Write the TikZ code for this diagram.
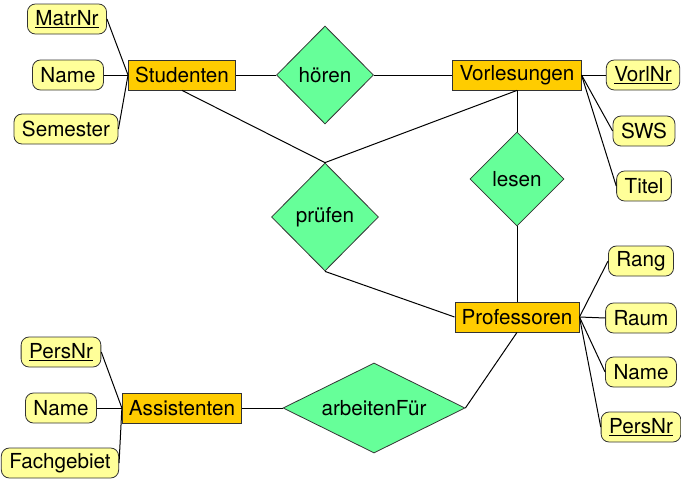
\documentclass[tikz,border=0pt]{standalone}
\usepackage{fontspec}
\setmainfont{TeX Gyre Heros}
\usetikzlibrary{shapes.geometric}

\definecolor{entityfill}{RGB}{255,204,0}
\definecolor{attrfill}{RGB}{255,255,153}
\definecolor{relfill}{RGB}{102,255,153}

\tikzset{every picture/.style={line width=0.75pt}}
\tikzset{
  entity/.style={draw=black!80, fill=entityfill, line width=0.6pt, inner xsep=5pt, minimum height=22.5pt, font=\fontsize{15.5}{18}\selectfont},
  attrib/.style={draw=black!80, fill=attrfill, line width=0.6pt, rounded corners=6pt, inner xsep=6pt, minimum height=22.5pt, font=\fontsize{15.5}{18}\selectfont},
  relship/.style={draw=black!80, fill=relfill, line width=0.6pt, diamond, inner sep=0pt, font=\fontsize{15.5}{18}\selectfont},
  link/.style={draw=black, line width=0.75pt}
}

\begin{document}
\begin{tikzpicture}[x=0.75pt,y=0.75pt,yscale=-1,xscale=1]
            \useasboundingbox (0,0) rectangle (681,482);

            %Entities
            \node [entity] (stud) at (182,75) {Studenten};
            \node [entity] (vorl) at (517,75) {Vorlesungen};
            \node [entity] (prof) at (517,317) {Professoren};
            \node [entity] (assi) at (182,408) {Assistenten};

            %Relationships
            \node [relship, minimum width=72.75pt, minimum height=73.5pt] (hoeren) at (325,75) {hören};
            \node [relship, minimum width=80.25pt, minimum height=81pt] (pruefen) at (325,217) {prüfen};
            \node [relship, minimum width=70.5pt, minimum height=70.5pt] (lesen) at (517,179) {lesen};
            \node [relship, minimum width=136.5pt, minimum height=67.5pt, aspect=2] (arbeit) at (374,408) {arbeitenFür};

            %Attributes Studenten
            \node [attrib] (matrnr) at (67,19) {\underline{MatrNr}};
            \node [attrib] (sname) at (68,75) {Name};
            \node [attrib] (semester) at (66,129) {Semester};
            %Attributes Vorlesungen
            \node [attrib] (vorlnr) at (643,75) {\underline{VorlNr}};
            \node [attrib] (sws) at (644,131) {SWS};
            \node [attrib] (titel) at (644,186) {Titel};
            %Attributes Professoren
            \node [attrib] (rang) at (641,261) {Rang};
            \node [attrib] (raum) at (641,318) {Raum};
            \node [attrib] (pname) at (641,372) {Name};
            \node [attrib] (ppersnr) at (641,427) {\underline{PersNr}};
            %Attributes Assistenten
            \node [attrib] (apersnr) at (61,352) {\underline{PersNr}};
            \node [attrib] (aname) at (61,408) {Name};
            \node [attrib] (fach) at (60,463) {Fachgebiet};

            %Straight Lines
            \foreach \a in {matrnr,sname,semester}
              \draw [link] (\a.east) -- (stud.west);
            \foreach \a in {vorlnr,sws,titel}
              \draw [link] (vorl.east) -- (\a.west);
            \foreach \a in {rang,raum,pname,ppersnr}
              \draw [link] (prof.east) -- (\a.west);
            \foreach \a in {apersnr,aname,fach}
              \draw [link] (\a.east) -- (assi.west);

            \draw [link] (stud.east) -- (hoeren.west);
            \draw [link] (hoeren.east) -- (vorl.west);
            \draw [link] (stud.south) -- (pruefen.north);
            \draw [link] (vorl.south) -- (pruefen.north);
            \draw [link] (pruefen.south) -- (prof.west);
            \draw [link] (vorl.south) -- (lesen.north);
            \draw [link] (lesen.south) -- (prof.north);
            \draw [link] (prof.south) -- (arbeit.east);
            \draw [link] (assi.east) -- (arbeit.west);

\end{tikzpicture}
\end{document}
